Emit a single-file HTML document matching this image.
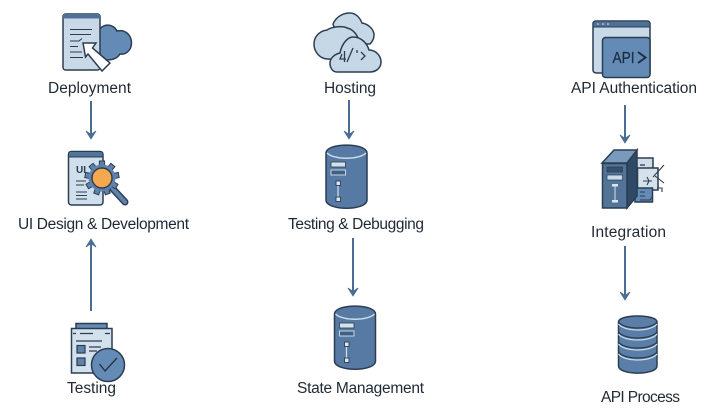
<!DOCTYPE html>
<html>
<head>
<meta charset="utf-8">
<style>
html,body{margin:0;padding:0;background:#fff;width:725px;height:410px;overflow:hidden}
svg{display:block}
text.l{font-family:"Liberation Sans",sans-serif;font-size:15.500px;fill:#1f2933}
.o{stroke:#2b3d50;stroke-width:1.500}
.a{stroke:#4a6d94;stroke-width:2;fill:none}
</style>
</head>
<body>
<svg width="725" height="410" viewBox="0 0 725 410" xmlns="http://www.w3.org/2000/svg">
<defs>
<g id="ah"><path d="M-5 -8 L0 0 L5 -8 L0 -4.500 Z" fill="#4a6d94" stroke="#4a6d94" stroke-width=".8"/></g>
<g id="db">
  <path class="o" fill="#567aa4" d="M0 8 C0 -2.500 41 -2.500 41 8 V55 C41 66 0 66 0 55 Z"/>
  <path d="M1 8 C8 15 33 15 40 8" fill="none" stroke="#c9dcea" stroke-width="1.500"/>
  <rect x="5" y="17" width="14.500" height="5" fill="#d5e1ea" stroke="#2b3d50" stroke-width=".8"/>
  <rect x="5" y="25" width="14.500" height="5" fill="#3f5f85" stroke="#d5e1ea" stroke-width=".9"/>
  <path d="M12 38 V54" stroke="#d5e1ea" stroke-width="1.200"/>
  <rect x="10" y="36" width="4.500" height="4.500" fill="#dbe6ee" stroke="#2b3d50" stroke-width=".9"/>
  <rect x="10" y="52" width="4.500" height="4.500" fill="#dbe6ee" stroke="#2b3d50" stroke-width=".9"/>
</g>
<rect id="tooth" x="-2.600" y="-17" width="5.200" height="6" fill="#5f82ad" stroke="#2b3d50" stroke-width="1"/>
</defs>

<!-- Deployment icon -->
<path class="o" fill="#648ab6" d="M98 32 C102 23 113 23 117 31 C125 29 131.500 35 131.500 43 C131.500 50 126 55 120 54 C116 61 105 61 98 58 Z"/>
<rect class="o" x="63" y="14" width="37" height="56" rx="2.500" fill="#c9d9e7"/>
<path d="M63 18.500 V16 Q63 14 65 14 H98 Q100 14 100 16 V18.500 Z" fill="#4f7199"/>
<path d="M70 29.500 H92 M70 34.500 H91 M70 41 H79 L82 38.500 M70 46.500 H78 M70 52 H82 M70 57.500 H83" stroke="#2b3d50" stroke-width="1.100" fill="none"/>
<path class="o" fill="#fff" d="M83 43 L96 43 L92.500 48 L110 63 L102 71 L88 54 L85.500 57 Z"/>

<!-- Hosting icon -->
<path class="o" fill="#c6d8e5" d="M333 24 C337 15 345 13 350 13 C356 13 360 18 362 23 C368 24 374 29 374 35 C374 39 372 42 370 44 L340 44 Z"/>
<path class="o" fill="#c6d8e5" d="M328 59 C320 59 314 52 314 44 C314 36 320 31 327 30 C333 26 343 26 347 28 C352 29 356 33 358 38 L345 60 Z"/>
<path class="o" fill="#c6d8e5" d="M337 72 C332 72 330 67 330 63 C330 58 335 54 340 53 C342 43 348 37 353 37 C361 37 367 43 369 50 C376 50 381 56 381 62 C381 68 376 72 370 72 Z"/>
<path d="M342 54 L340 59 H346 M344.500 51 V62 M347 62 L353 48 M357 50 V53 M361 52 L365 56 L361 60" fill="none" stroke="#2b3d50" stroke-width="1.300"/>

<!-- API Auth icon -->
<path class="o" fill="#c9d9e7" d="M593 24 Q593 21 596 21 H647 Q650 21 650 24 V73 H597 Q593 73 593 70 Z"/>
<path d="M593 27 V24 Q593 21 596 21 H647 Q650 21 650 24 V27 Z" fill="#4f7199" stroke="#2b3d50"/>
<circle cx="598" cy="24" r=".8" fill="#dfe8ef"/><circle cx="603" cy="24" r=".8" fill="#dfe8ef"/><circle cx="608" cy="24" r=".8" fill="#dfe8ef"/>
<rect class="o" x="602.500" y="37.500" width="47.500" height="40" rx="3" fill="#648ab6"/>
<text x="612.500" y="63" font-family="Liberation Sans,sans-serif" font-size="16" fill="#1c2f44" stroke="#1c2f44" stroke-width=".3" textLength="22" lengthAdjust="spacingAndGlyphs">API</text>
<path d="M638 52 L645.500 57.500 L638 63" fill="none" stroke="#1c2f44" stroke-width="2"/>

<!-- UI icon -->
<rect class="o" x="68.500" y="151.500" width="34.500" height="53.500" rx="3" fill="#cfdfeb"/>
<path d="M68.500 157 V154 Q68.500 151.500 71 151.500 H100 Q103 151.500 103 154 V157 Z" fill="#527499" stroke="#2b3d50"/>
<text x="76" y="173" font-family="Liberation Sans,sans-serif" font-size="10" font-weight="bold" fill="#2b3d50">UI</text>
<path d="M76 181 H86 M76 185 H84 M76 192 H87 M76 195.500 H87 M76 199 H87" stroke="#2b3d50" stroke-width="1"/>
<path d="M113 189 L125 202" stroke="#2b3d50" stroke-width="7" stroke-linecap="round"/>
<path d="M113 189 L125 202" stroke="#5f82ad" stroke-width="4.200" stroke-linecap="round"/>
<g transform="translate(102 178)">
<use href="#tooth"/>
<use href="#tooth" transform="rotate(40)"/>
<use href="#tooth" transform="rotate(80)"/>
<use href="#tooth" transform="rotate(120)"/>
<use href="#tooth" transform="rotate(160)"/>
<use href="#tooth" transform="rotate(200)"/>
<use href="#tooth" transform="rotate(240)"/>
<use href="#tooth" transform="rotate(280)"/>
<use href="#tooth" transform="rotate(320)"/>
<circle r="13.500" fill="#5f82ad" stroke="none"/>
<circle r="10" fill="#f5a94f" stroke="#2b3d50" stroke-width="1.400"/>
</g>

<!-- Server integration icon -->
<rect class="o" x="632" y="158" width="21" height="24" fill="#cfdde8"/>
<path d="M640 165 H645" stroke="#2b3d50" stroke-width="1.300"/>
<rect class="o" x="637.500" y="168" width="20.500" height="22" fill="#d6e2eb"/>
<path d="M653 177 L664 165 M655 176 L664 183 M643 181 H652 M647 177 L649 181 L647 185" stroke="#2b3d50" stroke-width="1.100" fill="none"/>
<path d="M657 188 H662 V192" stroke="#2b3d50" stroke-width="1.100" fill="none"/>
<rect class="o" x="635" y="188" width="17.500" height="14" fill="#648ab6"/>
<path d="M640 192 H645 M640 196 H645 M640 200 H650 L653 196" stroke="#2b3d50" stroke-width="1" fill="none"/>
<path class="o" fill="#2f4a68" d="M627 163 L637 150 V196 L627 208 Z"/>
<path class="o" fill="#7a9abd" d="M602 163 L614 150 H637 L627 163 Z"/>
<rect class="o" x="602.500" y="163.500" width="24.500" height="44.500" fill="#527499"/>
<rect x="607" y="167" width="15.500" height="5" fill="#35506e" stroke="#2b3d50" stroke-width=".7"/>
<rect x="607" y="175" width="15.500" height="5" fill="#c9d9e7" stroke="#2b3d50" stroke-width=".7"/>
<path d="M615 186 V201" stroke="#d5e1ea" stroke-width="1"/>
<rect x="612" y="184" width="6" height="2.500" fill="#dbe6ee"/>
<rect x="612" y="200" width="6" height="2.500" fill="#dbe6ee"/>

<!-- Cylinders -->
<use href="#db" x="326" y="145"/>
<use href="#db" x="334.500" y="306"/>

<!-- API Process stack -->
<path class="o" fill="#5b7ea8" d="M618.500 322 C618.500 314 657 314 657 322 V366 C657 375.500 618.500 375.500 618.500 366 Z"/>
<g fill="none">
<path d="M618.500 322 C624 330 651 330 657 322" stroke="#2b3d50" stroke-width="1.300"/>
<path d="M618.500 324 C624 332 651 332 657 324" stroke="#c9dcea" stroke-width="1.200"/>
<path d="M618.500 332 C624 340 651 340 657 332" stroke="#2b3d50" stroke-width="1.300"/>
<path d="M618.500 334 C624 342 651 342 657 334" stroke="#c9dcea" stroke-width="1.200"/>
<path d="M618.500 342 C624 350 651 350 657 342" stroke="#2b3d50" stroke-width="1.300"/>
<path d="M618.500 344 C624 352 651 352 657 344" stroke="#c9dcea" stroke-width="1.200"/>
<path d="M618.500 352 C624 360 651 360 657 352" stroke="#2b3d50" stroke-width="1.300"/>
<path d="M618.500 354 C624 362 651 362 657 354" stroke="#c9dcea" stroke-width="1.200"/>
</g>

<!-- Testing icon -->
<rect class="o" x="76" y="323.500" width="31" height="6" fill="#648ab6"/>
<rect class="o" x="71.500" y="328.500" width="40.500" height="44.500" fill="#d3e1ec"/>
<path d="M73 333.500 H76 M80 333.500 H93 M105 333.500 H110 M76 341 H102 M89 347 H101 M89 351 H97" stroke="#2b3d50" stroke-width="1.200"/>
<rect x="77" y="345.500" width="8" height="7.500" fill="#5f82ad" stroke="#2b3d50" stroke-width="1.200"/>
<rect x="77" y="358" width="8" height="7.500" fill="#5f82ad" stroke="#2b3d50" stroke-width="1.200"/>
<circle cx="108" cy="365" r="16.500" fill="#648ab6" stroke="#2b3d50" stroke-width="1.500"/>
<path d="M99.500 364 L105 371 L117 358" fill="none" stroke="#1f3144" stroke-width="1.300"/>

<!-- Connectors -->
<path class="a" d="M91 101 V136"/><use href="#ah" x="91" y="139"/>
<path class="a" d="M349 100 V136"/><use href="#ah" x="349" y="139"/>
<path class="a" d="M625 105 V140"/><use href="#ah" x="625" y="143"/>
<path class="a" d="M91 311 V242"/><use href="#ah" transform="translate(91 239) rotate(180)"/>
<path class="a" d="M353 238 V293"/><use href="#ah" x="353" y="296"/>
<path class="a" d="M625 246 V297"/><use href="#ah" x="625" y="300"/>

<!-- Labels -->
<text class="l" x="48" y="93" textLength="83">Deployment</text>
<text class="l" x="324" y="93" textLength="52">Hosting</text>
<text class="l" x="571" y="93" textLength="126">API Authentication</text>
<text class="l" x="18" y="229" textLength="171">UI Design &amp; Development</text>
<text class="l" x="288" y="229" textLength="136">Testing &amp; Debugging</text>
<text class="l" x="591" y="237" textLength="75">Integration</text>
<text class="l" x="67" y="393" textLength="49">Testing</text>
<text class="l" x="297" y="393" textLength="127">State Management</text>
<text class="l" x="601" y="402" textLength="79">API Process</text>
</svg>
</body>
</html>
